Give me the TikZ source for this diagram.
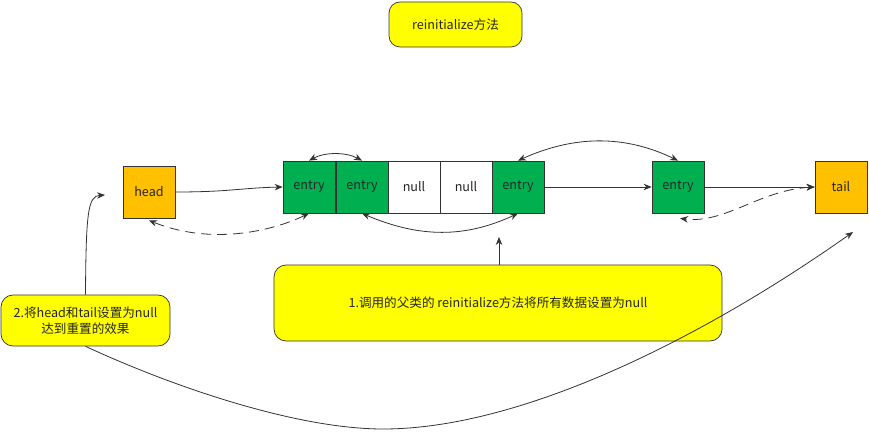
\documentclass[tikz,border=0pt]{standalone}
\usepackage{fontspec}
\setmainfont{Noto Sans CJK SC}
\usetikzlibrary{arrows.meta}
\definecolor{myyellow}{HTML}{FFFF00}
\definecolor{myorange}{HTML}{FFC000}
\definecolor{mygreen}{HTML}{00B050}
\definecolor{myline}{HTML}{333333}
\begin{document}
\begin{tikzpicture}[x=1pt,y=-1pt,
  every node/.style={font=\fontsize{12.6}{16}\selectfont, text=black!85},
  cell/.style={draw=myline, line width=0.8pt, minimum width=52pt, minimum height=52pt, inner sep=0pt},
  entrycell/.style={cell, fill=mygreen},
  nullcell/.style={cell, fill=white},
  endcell/.style={cell, fill=myorange},
  note/.style={draw=myline, line width=0.7pt, fill=myyellow, rounded corners=12pt, inner sep=0pt, align=center},
  conn/.style={draw=myline, line width=0.8pt, -{Stealth[length=8pt,width=6.5pt]}},
  biconn/.style={draw=myline, line width=0.8pt, {Stealth[length=8pt,width=6.5pt]}-{Stealth[length=8pt,width=6.5pt]}},
  dashconn/.style={biconn, dash pattern=on 10pt off 6pt}
]
\useasboundingbox (0,0) rectangle (869,435);

\node[note, rounded corners=11pt, minimum width=133pt, minimum height=45pt] (title) at (455.5,24.5) {reinitialize方法};

\node[endcell] (head) at (149,192) {head};
\node[entrycell] (e1) at (309,187) {entry};
\node[entrycell] (e2) at (362,187) {entry};
\node[nullcell] (n3) at (414,187) {null};
\node[nullcell] (n4) at (466,187) {null};
\node[entrycell] (e5) at (518,187) {entry};
\node[entrycell] (e6) at (678,187) {entry};
\node[endcell] (tail) at (841,187) {tail};

\node[note, minimum width=448pt, minimum height=76pt] (box1) at (498,303) {1.调用的父类的 reinitialize方法将所有数据设置为null};
\node[note, minimum width=169pt, minimum height=51pt] (box2) at (85.5,320.5) {2.将head和tail设置为null\\达到重置的效果};

\coordinate (a1) at (499,237);
\coordinate (a2) at (105,195);
\coordinate (a3) at (853,232);

% forward links
\draw[conn] (head.east) .. controls (230,192) and (240,188) .. (e1.west);
\draw[conn] (e5.east) -- (e6.west);
\draw[conn] (e6.east) -- (tail.west);

% backward/bidirectional links
\draw[dashconn] (e1.south) .. controls (270,232) and (210,245) .. ([yshift=-2pt]head.south);
\draw[biconn] (e1.north) .. controls (325,152) and (346,152) .. (e2.north);
\draw[biconn] (e2.south) .. controls (420,238) and (465,238) .. (e5.south);
\draw[biconn] (e5.north) .. controls (575,135) and (625,135) .. (e6.north);
\draw[dashconn] (tail.west) .. controls (760,190) and (725,224) .. ([xshift=2pt,yshift=-5pt]e6.south);

% notes
\draw[conn] (box1.north -| a1) -- (a1);
\draw[conn] (box2.north) .. controls (86,212) and (88,196) .. (a2);
\draw[conn] (box2.south) .. controls (180,390) and (300,429) .. (383,429)
  .. controls (520,429) and (700,340) .. (a3);
\end{tikzpicture}
\end{document}
